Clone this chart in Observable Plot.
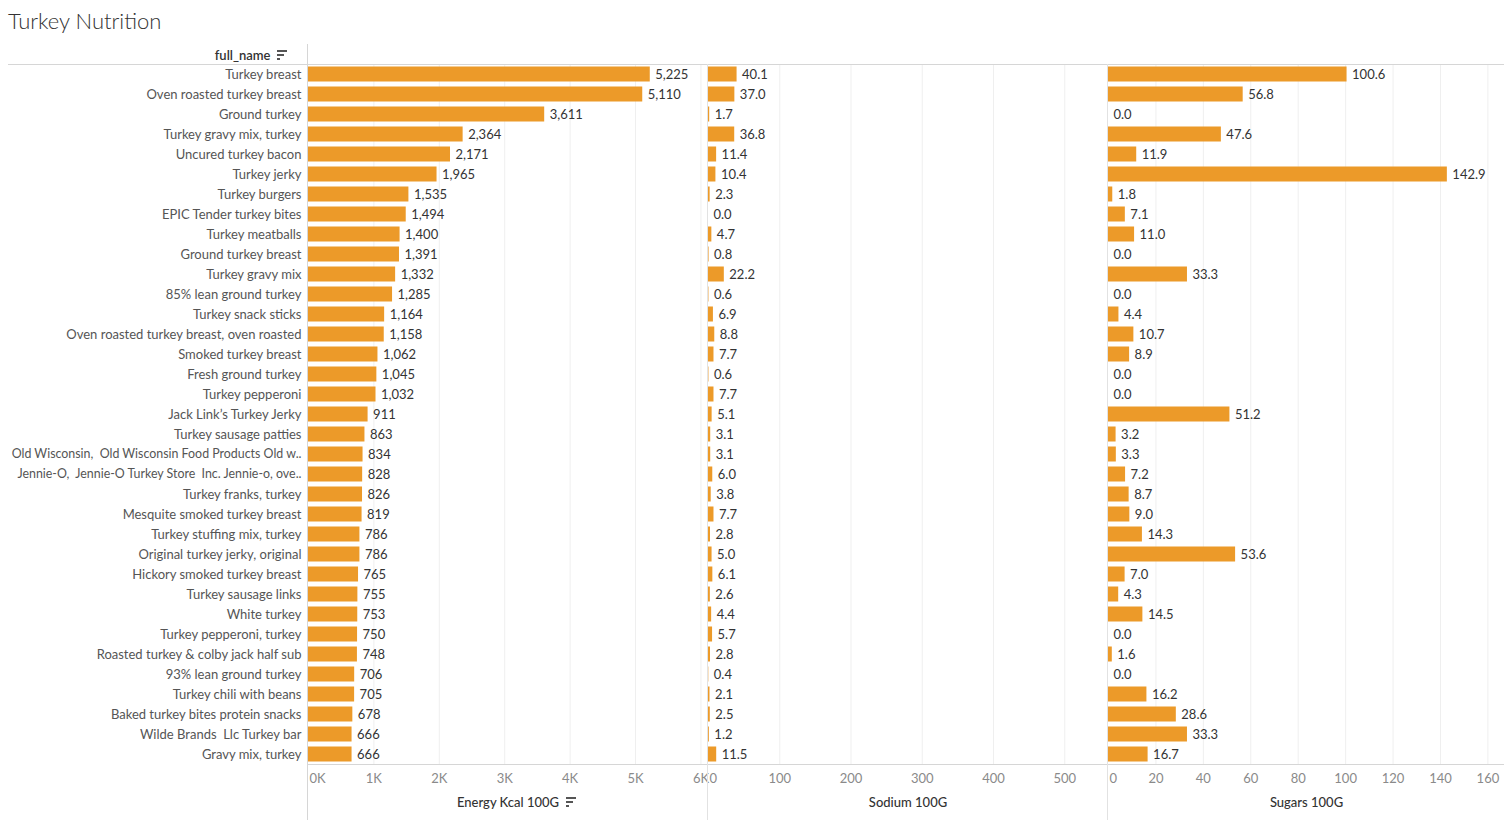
<!DOCTYPE html>
<html>
<head>
<meta charset="utf-8">
<script src="https://cdn.jsdelivr.net/npm/d3@7"></script>
<script src="https://cdn.jsdelivr.net/npm/@observablehq/plot@0.6"></script>
<style>
  html, body { margin: 0; padding: 0; background: #fff; }
  #wrap { position: relative; width: 1504px; height: 820px; font-family: Lato, "Open Sans", sans-serif; overflow: hidden; }
  #wrap text { white-space: pre; }
  .panel { position: absolute; top: 40px; }
  .line { position: absolute; }
  .title { position: absolute; left: 8px; top: 7px; font-size: 22px; font-weight: 300; color: #333; }
</style>
</head>
<body>
<div id="wrap">
  <div class="title">Turkey Nutrition</div>
  <div id="p1" class="panel" style="left:0px"></div>
  <div id="p2" class="panel" style="left:708px"></div>
  <div id="p3" class="panel" style="left:1108px"></div>
</div>
<script>
const names = [
  "Turkey breast","Oven roasted turkey breast","Ground turkey","Turkey gravy mix, turkey",
  "Uncured turkey bacon","Turkey jerky","Turkey burgers","EPIC Tender turkey bites",
  "Turkey meatballs","Ground turkey breast","Turkey gravy mix","85% lean ground turkey",
  "Turkey snack sticks","Oven roasted turkey breast, oven roasted","Smoked turkey breast",
  "Fresh ground turkey","Turkey pepperoni","Jack Link\u2019s Turkey Jerky","Turkey sausage patties",
  "Old Wisconsin,  Old Wisconsin Food Products Old w..","Jennie-O,  Jennie-O Turkey Store  Inc. Jennie-o, ove..",
  "Turkey franks, turkey","Mesquite smoked turkey breast","Turkey stuffing mix, turkey",
  "Original turkey jerky, original","Hickory smoked turkey breast","Turkey sausage links",
  "White turkey","Turkey pepperoni, turkey","Roasted turkey & colby jack half sub",
  "93% lean ground turkey","Turkey chili with beans","Baked turkey bites protein snacks",
  "Wilde Brands  Llc Turkey bar","Gravy mix, turkey"
];
const energy = [5225,5110,3611,2364,2171,1965,1535,1494,1400,1391,1332,1285,1164,1158,1062,1045,1032,911,863,834,828,826,819,786,786,765,755,753,750,748,706,705,678,666,666];
const sodium = [40.1,37.0,1.7,36.8,11.4,10.4,2.3,0.0,4.7,0.8,22.2,0.6,6.9,8.8,7.7,0.6,7.7,5.1,3.1,3.1,6.0,3.8,7.7,2.8,5.0,6.1,2.6,4.4,5.7,2.8,0.4,2.1,2.5,1.2,11.5];
const sugars = [100.6,56.8,0.0,47.6,11.9,142.9,1.8,7.1,11.0,0.0,33.3,0.0,4.4,10.7,8.9,0.0,0.0,51.2,3.2,3.3,7.2,8.7,9.0,14.3,53.6,7.0,4.3,14.5,0.0,1.6,0.0,16.2,28.6,33.3,16.7];

const energyTicks = [0,1000,2000,3000,4000,5000,6000];
const sodiumTicks = [0,100,200,300,400,500];
const sugarsTicks = [0,20,40,60,80,100,120,140,160];

const data = names.map((n, i) => ({name: n, energy: energy[i], sodium: sodium[i], sugars: sugars[i]}));

const BAR = "#EC9A29";
const H = 780;
const FS = 13;

function panel({key, width, marginLeft, marginRight, domain, ticks, tickFmt, valFmt, label, showY}) {
  const marks = [
    Plot.gridX(ticks.slice(1), {stroke: "#efefef", strokeOpacity: 1}),
    Plot.barX(data, {x: key, y: "name", fill: BAR}),
    Plot.text(data, {x: key, y: "name", text: d => valFmt(d[key]), dx: 5, textAnchor: "start", fill: "#333", fontSize: FS}),
    Plot.axisX([ticks[0]], {tickSize: 0, tickPadding: 9, textAnchor: "start", dx: 1, tickFormat: tickFmt, fill: "#8a8a8a", fontSize: FS, label: null}),
    Plot.axisX(ticks.slice(1), {tickSize: 0, tickPadding: 9, tickFormat: tickFmt, fill: "#8a8a8a", fontSize: FS, label: null}),
    Plot.text([label], {frameAnchor: "bottom", lineAnchor: "middle", dy: 38, fill: "#333", fontSize: FS, fontWeight: 500})
  ];
  if (showY) {
    marks.push(Plot.axisY({tickSize: 0, tickPadding: 7, fill: "#555", fontSize: d => (d.length > 45 ? 12.4 : 13), label: null}));
    marks.push(Plot.text(["full_name"], {frameAnchor: "top-left", lineAnchor: "middle", dx: -38, dy: -9, textAnchor: "end", fill: "#333", fontSize: FS, fontWeight: 600}));
  }
  return Plot.plot({
    width, height: H,
    marginTop: 24, marginBottom: 56, marginLeft, marginRight,
    style: {fontFamily: "Lato, 'Open Sans', sans-serif", fontSize: FS + "px", overflow: "visible", background: "transparent"},
    x: {domain, axis: null},
    y: {domain: names, paddingInner: 0.25, paddingOuter: 0.125, round: false, axis: null},
    marks
  });
}

document.getElementById("p1").append(panel({
  key: "energy", width: 708, marginLeft: 308, marginRight: 1, domain: [0, 6100],
  ticks: energyTicks, tickFmt: d => (d / 1000) + "K", valFmt: d3.format(","),
  label: "Energy Kcal 100G", showY: true
}));
document.getElementById("p2").append(panel({
  key: "sodium", width: 400, marginLeft: 0, marginRight: 1, domain: [0, 560],
  ticks: sodiumTicks, tickFmt: d => String(d), valFmt: d3.format(".1f"),
  label: "Sodium 100G", showY: false
}));
document.getElementById("p3").append(panel({
  key: "sugars", width: 396, marginLeft: 0, marginRight: 0, domain: [0, 167],
  ticks: sugarsTicks, tickFmt: d => String(d), valFmt: d3.format(".1f"),
  label: "Sugars 100G", showY: false
}));

// decorative rules and sort icons
const wrap = document.getElementById("wrap");
function line(l, t, w, h, c) {
  const d = document.createElement("div");
  d.className = "line";
  d.style.cssText = `left:${l}px;top:${t}px;width:${w}px;height:${h}px;background:${c}`;
  wrap.append(d);
}
line(8, 64, 1496, 1, "#d6d6d6");
line(307, 764, 1197, 1, "#d6d6d6");
line(307, 44, 1, 776, "#d6d6d6");
line(707, 64, 1, 756, "#e2e2e2");
line(1107, 64, 1, 756, "#e2e2e2");
function sortIcon(l, t) {
  line(l, t, 10, 2, "#555");
  line(l, t + 4, 7, 2, "#555");
  line(l, t + 8, 3, 2, "#555");
}
sortIcon(277, 50);
sortIcon(566, 797);
</script>
</body>
</html>
